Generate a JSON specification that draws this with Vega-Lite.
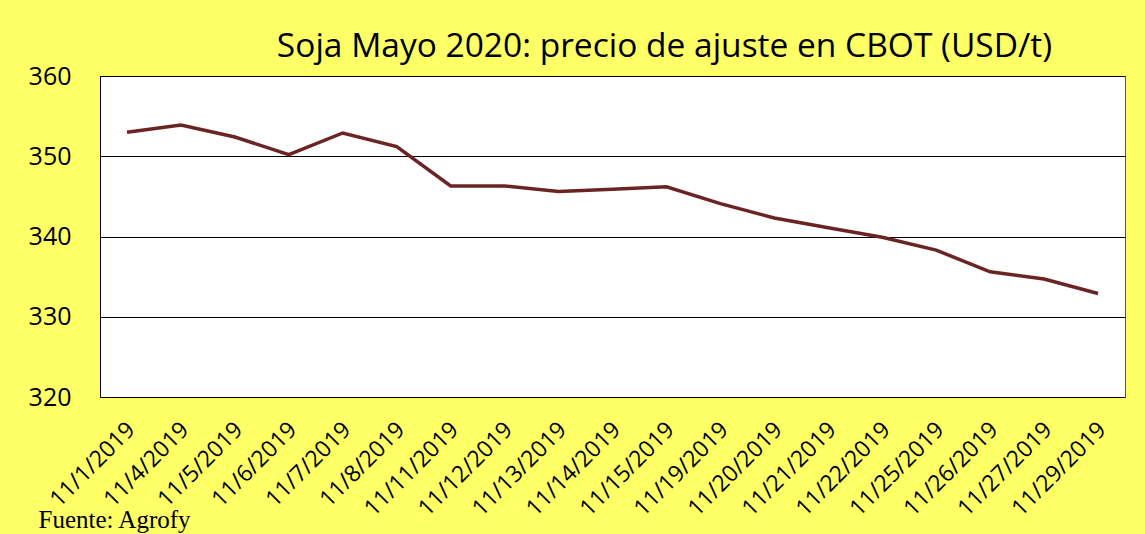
{
  "$schema": "https://vega.github.io/schema/vega-lite/v6.json",
  "autosize": {"type": "none"},
  "width": 1025,
  "height": 321,
  "padding": {"left": 100, "top": 76, "right": 20, "bottom": 137},
  "background": "#FFFF66",
  "title": {
    "text": "Soja Mayo 2020: precio de ajuste en CBOT (USD/t)",
    "font": "Open Sans",
    "fontSize": 33.5,
    "fontWeight": "normal",
    "color": "#000000",
    "anchor": "middle",
    "dx": 52,
    "dy": 43,
    "baseline": "alphabetic",
    "offset": 17
  },
  "data": {
    "values": [
      {"fecha": "11/1/2019", "precio": 353.0},
      {"fecha": "11/4/2019", "precio": 353.9},
      {"fecha": "11/5/2019", "precio": 352.4},
      {"fecha": "11/6/2019", "precio": 350.2},
      {"fecha": "11/7/2019", "precio": 352.9},
      {"fecha": "11/8/2019", "precio": 351.2},
      {"fecha": "11/11/2019", "precio": 346.3},
      {"fecha": "11/12/2019", "precio": 346.3},
      {"fecha": "11/13/2019", "precio": 345.6},
      {"fecha": "11/14/2019", "precio": 345.9},
      {"fecha": "11/15/2019", "precio": 346.2},
      {"fecha": "11/19/2019", "precio": 344.1},
      {"fecha": "11/20/2019", "precio": 342.3},
      {"fecha": "11/21/2019", "precio": 341.1},
      {"fecha": "11/22/2019", "precio": 339.9},
      {"fecha": "11/25/2019", "precio": 338.3},
      {"fecha": "11/26/2019", "precio": 335.6},
      {"fecha": "11/27/2019", "precio": 334.7},
      {"fecha": "11/29/2019", "precio": 332.9}
    ]
  },
  "mark": {"type": "line", "color": "#6B2424", "strokeWidth": 3.5},
  "encoding": {
    "x": {
      "field": "fecha",
      "type": "ordinal",
      "sort": null,
      "axis": {
        "title": "Fuente: Agrofy",
        "titleFont": "Liberation Serif",
        "titleFontSize": 25,
        "titleFontWeight": "normal",
        "titleColor": "#000000",
        "titleAnchor": "start",
        "titleAlign": "left",
        "titleBaseline": "alphabetic",
        "titleX": -62,
        "titleY": 130,
        "labelAngle": -45,
        "labelFont": "Open Sans",
        "labelFontSize": 23,
        "labelColor": "#000000",
        "labelPadding": 21,
        "labelOffset": -4,
        "ticks": false,
        "domain": false,
        "grid": false
      }
    },
    "y": {
      "field": "precio",
      "type": "quantitative",
      "scale": {"domain": [320, 360], "nice": false, "zero": false},
      "axis": {
        "title": null,
        "values": [320, 330, 340, 350, 360],
        "labelFont": "Open Sans",
        "labelFontSize": 25,
        "labelColor": "#000000",
        "labelPadding": 29,
        "ticks": false,
        "domain": true,
        "domainColor": "#000000",
        "grid": true,
        "gridColor": "#000000",
        "gridWidth": 1,
        "gridOpacity": 1
      }
    }
  },
  "config": {
    "view": {"fill": "#FFFFFF", "stroke": "#555555", "strokeWidth": 1}
  }
}
